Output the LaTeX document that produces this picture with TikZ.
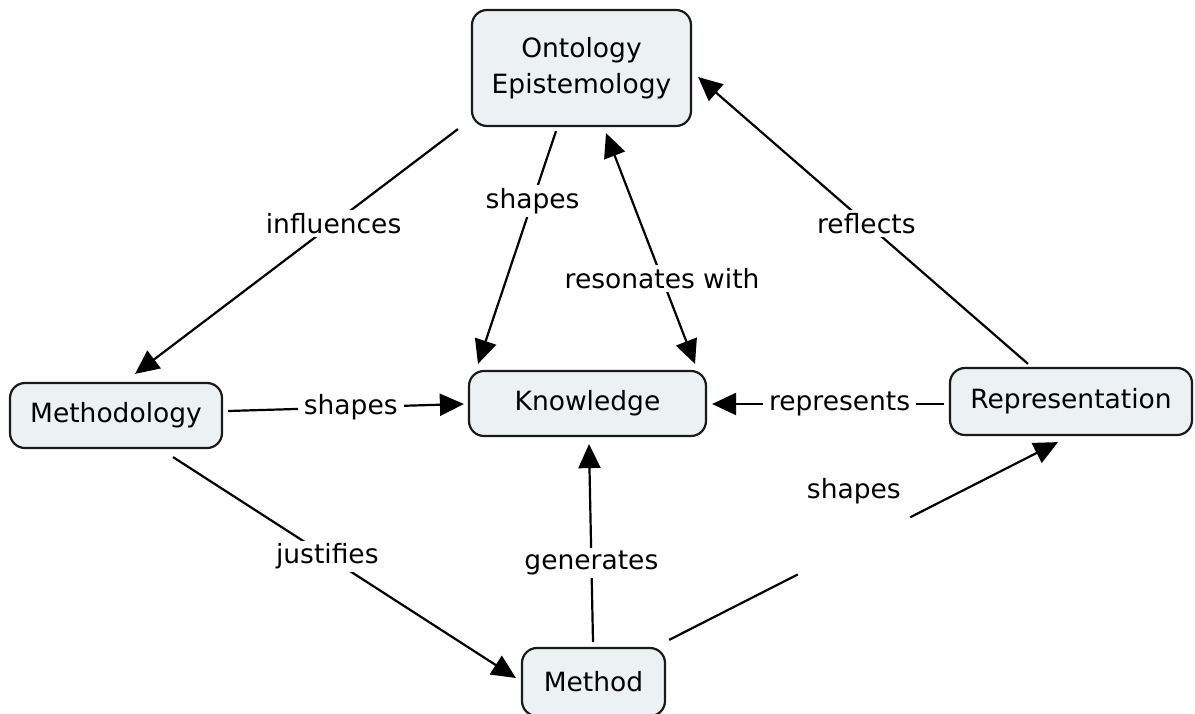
\documentclass[tikz,border=0pt]{standalone}
\usepackage{fontspec}
\setmainfont{DejaVu Sans}
\usetikzlibrary{arrows.meta}
\definecolor{conceptfill}{HTML}{ECF1F4}
\definecolor{conceptline}{HTML}{1A1A1A}
\begin{document}
\begin{tikzpicture}[x=1pt,y=-1pt,
  concept/.style={draw=conceptline, fill=conceptfill, line width=2.2pt, rounded corners=15pt,
    align=center, inner sep=0pt, font=\fontsize{26.5}{36}\selectfont},
  plain/.style={draw=black, line width=2.2pt},
  link/.style={plain, -{Triangle[length=24pt,width=22pt]}},
  biliink/.style={plain, {Triangle[length=24pt,width=22pt]}-{Triangle[length=24pt,width=22pt]}},
  lbl/.style={fill=white, inner xsep=6pt, inner ysep=3pt, font=\fontsize{26.5}{30}\selectfont, text=black}]
\useasboundingbox[fill=white] (0,0) rectangle (1195,713);

\node[concept, minimum width=219pt, minimum height=116pt] (onto) at (581.5,68) {Ontology\\Epistemology};
\node[concept, minimum width=212pt, minimum height=65pt] (mthd) at (116,415.5) {Methodology};
\node[concept, minimum width=237pt, minimum height=65pt] (know) at (587.5,403.5) {Knowledge};
\node[concept, minimum width=143pt, minimum height=68pt] (method) at (593.5,682) {Method};
\node[concept, minimum width=242pt, minimum height=67pt] (rep) at (1071,401.5) {Representation};

\draw[link] ([shift={(-13,2)}]onto.south west) -- node[lbl, pos=0.385] {influences} ([shift={(19,-8)}]mthd.north);
\draw[link] ([shift={(-25.5,4)}]onto.south) -- node[lbl, pos=0.30] {shapes} ([shift={(-109.5,-6)}]know.north);
\draw[biliink] ([shift={(24.5,6)}]onto.south) -- node[lbl, pos=0.63] {resonates with} ([shift={(107.5,-6)}]know.north);
\draw[link] ([shift={(-43,-3)}]rep.north) -- node[lbl, pos=0.49] {reflects} ([shift={(6,9)}]onto.east);
\draw[link] ([shift={(5,-4.5)}]mthd.east) -- node[lbl, pos=0.52] {shapes} ([shift={(-4,0.5)}]know.west);
\draw[link] ([shift={(-5,2.5)}]rep.west) -- node[lbl, pos=0.45] {represents} ([shift={(5,0.5)}]know.east);
\draw[link] ([shift={(57,8)}]mthd.south) -- node[lbl, pos=0.45] {justifies} ([shift={(-5,-4)}]method.west);
\draw[link] ([shift={(-0.5,-5)}]method.north) -- node[lbl, pos=0.40] {generates} ([shift={(1.5,7)}]know.south);

\path ([shift={(3,-7)}]method.north east) coordinate (m1)
  -- coordinate[pos=0.331] (g1) coordinate[pos=0.62] (g2)
     node[lbl, fill=none, pos=0.475, yshift=55pt] (shp) {shapes}
  ([shift={(-13,6)}]rep.south) coordinate (r1);
\draw[plain] (m1) -- (g1);
\draw[link] (g2) -- (r1);
\end{tikzpicture}
\end{document}
